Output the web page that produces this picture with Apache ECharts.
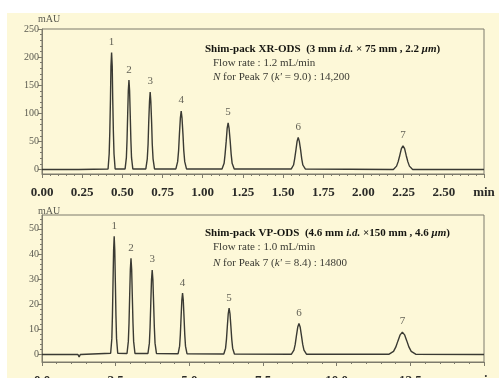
<!DOCTYPE html>
<html>
<head>
<meta charset="utf-8">
<script src="https://cdn.jsdelivr.net/npm/echarts@6/dist/echarts.min.js"></script>
<style>
  html, body { margin:0; padding:0; background:#ffffff; width:499px; height:378px; overflow:hidden; }
  #bg { position:absolute; left:7px; top:13px; width:492px; height:365px; background:#fdf8d8; }
  #chart { position:absolute; left:0; top:0; width:499px; height:378px; }
</style>
</head>
<body>
<div id="bg"></div>
<div id="chart"></div>
<script>
// ---- Data ----
// Top chromatogram: Shim-pack XR-ODS, [time (min), signal (mAU)]
const topTrace = [
  [0, 0], [0.215, 0], [0.222, -3], [0.229, 0],
  [0.411, 1], [0.418, 28], [0.422, 68], [0.426, 126], [0.429, 183], [0.433, 208], [0.437, 183], [0.440, 126], [0.444, 68], [0.448, 28], [0.455, 1],
  [0.517, 1], [0.525, 21], [0.529, 52], [0.533, 97], [0.537, 140], [0.541, 159], [0.545, 140], [0.549, 97], [0.553, 52], [0.557, 21], [0.565, 1],
  [0.646, 1], [0.655, 19], [0.660, 45], [0.664, 84], [0.669, 122], [0.673, 138], [0.677, 122], [0.682, 84], [0.686, 45], [0.691, 19], [0.700, 1],
  [0.833, 1], [0.844, 14], [0.850, 34], [0.855, 63], [0.861, 92], [0.866, 104], [0.871, 92], [0.877, 63], [0.882, 34], [0.888, 14], [0.899, 1],
  [1.120, 1], [1.133, 11], [1.139, 27], [1.146, 50], [1.152, 73], [1.158, 83], [1.164, 73], [1.171, 50], [1.177, 27], [1.183, 11], [1.196, 1],
  [1.551, 1], [1.565, 8], [1.572, 19], [1.580, 35], [1.587, 50], [1.594, 57], [1.601, 50], [1.609, 35], [1.616, 19], [1.623, 8], [1.638, 1],
  [2.186, 0], [2.206, 6], [2.216, 14], [2.226, 25], [2.236, 37], [2.246, 42], [2.256, 37], [2.266, 25], [2.276, 14], [2.286, 6], [2.306, 0],
  [2.75, 0]
];
// Bottom chromatogram: Shim-pack VP-ODS, [time (min), signal (mAU)]
const bottomTrace = [
  [0, 0], [1.22, 0], [1.26, -1], [1.30, 0],
  [2.33, 0.5], [2.37, 6.3], [2.39, 15.3], [2.41, 28.5], [2.43, 41.5], [2.45, 47], [2.47, 41.5], [2.49, 28.5], [2.51, 15.3], [2.53, 6.3], [2.57, 0.5],
  [2.885, 0.4], [2.93, 5.2], [2.953, 12.4], [2.975, 23.2], [2.998, 33.8], [3.02, 38.3], [3.043, 33.8], [3.065, 23.2], [3.088, 12.4], [3.11, 5.2], [3.155, 0.4],
  [3.596, 0.4], [3.644, 4.5], [3.668, 10.9], [3.692, 20.4], [3.716, 29.6], [3.74, 33.6], [3.764, 29.6], [3.788, 20.4], [3.812, 10.9], [3.836, 4.5], [3.884, 0.4],
  [4.62, 0.3], [4.67, 3.3], [4.695, 7.9], [4.72, 14.8], [4.745, 21.5], [4.77, 24.4], [4.795, 21.5], [4.82, 14.8], [4.845, 7.9], [4.87, 3.3], [4.92, 0.3],
  [6.17, 0.2], [6.23, 2.5], [6.26, 6], [6.29, 11.2], [6.32, 16.2], [6.35, 18.4], [6.38, 16.2], [6.41, 11.2], [6.44, 6], [6.47, 2.5], [6.53, 0.2],
  [8.465, 0.1], [8.55, 1.7], [8.593, 4], [8.635, 7.5], [8.678, 10.8], [8.72, 12.3], [8.763, 10.8], [8.805, 7.5], [8.848, 4], [8.89, 1.7], [8.975, 0.1],
  [11.78, 0.1], [11.93, 1.2], [12.005, 2.9], [12.08, 5.4], [12.155, 7.8], [12.23, 8.9], [12.305, 7.8], [12.38, 5.4], [12.455, 2.9], [12.53, 1.2], [12.68, 0.1],
  [15, 0]
];
const peakNames = ['1', '2', '3', '4', '5', '6', '7'];
const topPeakTimes = [0.433, 0.541, 0.673, 0.866, 1.158, 1.594, 2.246];
const topPeakHeights = [208, 159, 138, 104, 83, 57, 42];
const bottomPeakTimes = [2.45, 3.02, 3.74, 4.77, 6.35, 8.72, 12.23];
const bottomPeakHeights = [47, 38.3, 33.6, 24.4, 18.4, 12.3, 8.9];

// Axis ticks
const topYLabels = [0, 50, 100, 150, 200, 250];
const topYMinor = [0, 10, 20, 30, 40, 50, 60, 70, 80, 90, 100, 110, 120, 130, 140, 150, 160, 170, 180, 190, 200, 210, 220, 230, 240, 250];
const bottomYLabels = [0, 10, 20, 30, 40, 50];
const bottomYMinor = [0, 2, 4, 6, 8, 10, 12, 14, 16, 18, 20, 22, 24, 26, 28, 30, 32, 34, 36, 38, 40, 42, 44, 46, 48, 50, 52, 54];
const topXMax = 2.75, topXStep = 0.25;
const bottomXMax = 15, bottomXStep = 2.5;
const xUnit = 'min', yUnit = 'mAU';

// ---- Styles ----
const SERIF = '"Liberation Serif", "DejaVu Serif", serif';
const axisGray = '#7d7b6c';
const traceColor = '#3a3a33';

function xAxisCfg(gi, max, step, digits) {
  return {
    gridIndex: gi, type: 'value', min: 0, max: max, interval: step,
    axisLine: { show: true, onZero: false, lineStyle: { color: axisGray, width: 1 } },
    axisTick: { show: true, length: 4, lineStyle: { color: axisGray } },
    minorTick: { show: true, splitNumber: 5, length: 2, lineStyle: { color: axisGray } },
    splitLine: { show: false }, minorSplitLine: { show: false },
    axisLabel: {
      margin: 12, color: '#2b2b28', fontFamily: SERIF, fontWeight: 'bold', fontSize: 13,
      formatter: v => (Math.abs(v - max) < 1e-9 ? xUnit : v.toFixed(digits))
    }
  };
}
function yAxesCfg(gi, min, max, labels, minor) {
  return [{
    gridIndex: gi, type: 'value', position: 'left', min: min, max: max,
    name: yUnit, nameLocation: 'end', nameGap: -1,
    nameTextStyle: { color: '#5a5a50', fontFamily: SERIF, fontSize: 10, align: 'left', padding: [0, 0, 0, -4] },
    axisLine: { show: true, onZero: false, lineStyle: { color: axisGray } },
    axisTick: { show: true, length: 4, customValues: labels, lineStyle: { color: axisGray } },
    axisLabel: { customValues: labels, margin: 3, color: '#5a5a50', fontFamily: SERIF, fontSize: 10 },
    splitLine: { show: false }
  }, {
    gridIndex: gi, type: 'value', position: 'left', offset: 0, min: min, max: max,
    axisLine: { show: false },
    axisTick: { show: true, length: 2, customValues: minor, lineStyle: { color: axisGray } },
    axisLabel: { show: false },
    splitLine: { show: false }
  }];
}
function labelData(times, heights) {
  return times.map((t, i) => ({ value: [t, heights[i]], name: peakNames[i] }));
}

const chart = echarts.init(document.getElementById('chart'), null, { renderer: 'canvas' });
const ya = yAxesCfg(0, -8, 250, topYLabels, topYMinor);
const yb = yAxesCfg(1, -3, 55.5, bottomYLabels, bottomYMinor);

const richHead = {
  b: { fontFamily: SERIF, fontSize: 11, fontWeight: 'bold', fill: '#151510' },
  bi: { fontFamily: SERIF, fontSize: 11, fontWeight: 'bold', fontStyle: 'italic', fill: '#151510' },
  r: { fontFamily: SERIF, fontSize: 11, fill: '#3a3a33' },
  i: { fontFamily: SERIF, fontSize: 11, fontStyle: 'italic', fill: '#3a3a33' }
};
function headText(x, y, text) {
  return { type: 'text', silent: true, style: { x: x, y: y, text: text, rich: richHead, verticalAlign: 'middle', align: 'left' } };
}

chart.setOption({
  animation: false,
  grid: [
    { left: 42, right: 15, top: 29, height: 145, outerBoundsMode: 'none', containLabel: false,
      show: true, borderColor: axisGray, borderWidth: 1, backgroundColor: 'transparent' },
    { left: 42, right: 15, top: 215, height: 147, outerBoundsMode: 'none', containLabel: false,
      show: true, borderColor: axisGray, borderWidth: 1, backgroundColor: 'transparent' }
  ],
  xAxis: [xAxisCfg(0, topXMax, topXStep, 2), xAxisCfg(1, bottomXMax, bottomXStep, 1)],
  yAxis: [ya[0], ya[1], yb[0], yb[1]],
  series: [
    { type: 'line', xAxisIndex: 0, yAxisIndex: 0, data: topTrace, showSymbol: false, symbol: 'none',
      lineStyle: { color: traceColor, width: 1.4 } },
    { type: 'line', xAxisIndex: 1, yAxisIndex: 2, data: bottomTrace, showSymbol: false, symbol: 'none',
      lineStyle: { color: traceColor, width: 1.4 } },
    { type: 'scatter', xAxisIndex: 0, yAxisIndex: 0, data: labelData(topPeakTimes, topPeakHeights),
      symbolSize: 0, label: { show: true, position: 'top', distance: 5, formatter: p => p.name,
      color: '#3a3a33', fontFamily: SERIF, fontSize: 11 } },
    { type: 'scatter', xAxisIndex: 1, yAxisIndex: 2, data: labelData(bottomPeakTimes, bottomPeakHeights),
      symbolSize: 0, label: { show: true, position: 'top', distance: 5, formatter: p => p.name,
      color: '#3a3a33', fontFamily: SERIF, fontSize: 11 } }
  ],
  graphic: [
    headText(205, 49, '{b|Shim-pack XR-ODS  (3 mm }{bi|i.d.}{b| × 75 mm , 2.2 }{bi|μm}{b|)}'),
    headText(213, 63, '{r|Flow rate : 1.2 mL/min}'),
    headText(213, 77, "{i|N}{r| for Peak 7 (}{i|k'}{r| = 9.0) : 14,200}"),
    headText(205, 233, '{b|Shim-pack VP-ODS  (4.6 mm }{bi|i.d.}{b| ×150 mm , 4.6 }{bi|μm}{b|)}'),
    headText(213, 247, '{r|Flow rate : 1.0 mL/min}'),
    headText(213, 263, "{i|N}{r| for Peak 7 (}{i|k'}{r| = 8.4) : 14800}")
  ]
});
</script>
</body>
</html>
